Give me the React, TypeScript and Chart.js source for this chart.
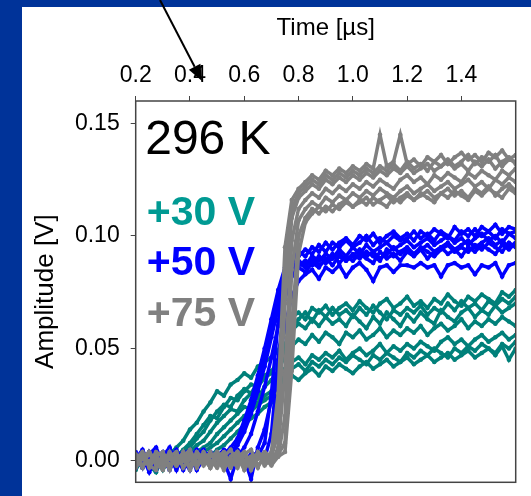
import React, { useEffect, useRef } from "react";
import { Chart, registerables } from "chart.js";

Chart.register(...registerables);

// ---- data (time in µs, amplitude in V) ----
const times = [
  0.2, 0.225, 0.25, 0.275, 0.3, 0.325, 0.35, 0.375, 0.4, 0.425,
  0.45, 0.475, 0.5, 0.525, 0.55, 0.575, 0.6, 0.625, 0.65, 0.675,
  0.7, 0.725, 0.75, 0.775, 0.8, 0.825, 0.85, 0.875, 0.9, 0.925,
  0.95, 0.975, 1.0, 1.025, 1.05, 1.075, 1.1, 1.125, 1.15, 1.175,
  1.2, 1.225, 1.25, 1.275, 1.3, 1.325, 1.35, 1.375, 1.4, 1.425,
  1.45, 1.475, 1.5, 1.525, 1.55, 1.575, 1.6,
];

// +30 V traces
const teal1 = [
  0.002, -0.003, 0.004, 0.001, -0.002, 0.003, 0.006, 0.009, 0.014, 0.017,
  0.022, 0.026, 0.031, 0.029, 0.034, 0.036, 0.039, 0.037, 0.042, 0.044,
  0.046, 0.049, 0.058, 0.064, 0.066, 0.063, 0.068, 0.066, 0.069, 0.065,
  0.068, 0.070, 0.067, 0.071, 0.068, 0.066, 0.070, 0.072, 0.068, 0.070,
  0.073, 0.069, 0.071, 0.068, 0.072, 0.070, 0.074, 0.071, 0.069, 0.073,
  0.071, 0.074, 0.072, 0.070, 0.075, 0.073, 0.076,
];
const teal2 = [
  -0.004, 0.001, -0.002, 0.003, -0.001, 0.002, -0.003, 0.004, 0.006, 0.010,
  0.013, 0.018, 0.022, 0.025, 0.024, 0.029, 0.032, 0.030, 0.035, 0.038,
  0.040, 0.044, 0.052, 0.058, 0.061, 0.059, 0.063, 0.060, 0.064, 0.061,
  0.063, 0.060, 0.065, 0.062, 0.059, 0.064, 0.061, 0.066, 0.063, 0.060,
  0.065, 0.062, 0.066, 0.063, 0.061, 0.067, 0.064, 0.062, 0.066, 0.068,
  0.064, 0.067, 0.065, 0.069, 0.066, 0.068, 0.070,
];
const teal3 = [
  0.001, 0.004, -0.002, -0.005, 0.002, -0.001, 0.003, 0.000, 0.004, 0.007,
  0.009, 0.013, 0.017, 0.020, 0.023, 0.022, 0.027, 0.030, 0.028, 0.033,
  0.036, 0.040, 0.047, 0.051, 0.054, 0.052, 0.056, 0.053, 0.057, 0.055,
  0.052, 0.057, 0.055, 0.058, 0.054, 0.056, 0.059, 0.055, 0.058, 0.056,
  0.059, 0.057, 0.060, 0.056, 0.059, 0.061, 0.058, 0.060, 0.063, 0.059,
  0.062, 0.060, 0.063, 0.061, 0.064, 0.062, 0.060,
];
const teal4 = [
  -0.002, 0.003, 0.000, 0.002, -0.004, 0.001, -0.002, 0.002, 0.001, 0.004,
  0.006, 0.008, 0.012, 0.015, 0.018, 0.021, 0.024, 0.023, 0.026, 0.029,
  0.031, 0.034, 0.041, 0.044, 0.046, 0.043, 0.047, 0.045, 0.048, 0.046,
  0.049, 0.045, 0.048, 0.050, 0.047, 0.049, 0.052, 0.048, 0.051, 0.049,
  0.052, 0.050, 0.053, 0.051, 0.049, 0.053, 0.055, 0.052, 0.054, 0.051,
  0.054, 0.056, 0.053, 0.055, 0.057, 0.054, 0.056,
];
const teal5 = [
  0.003, -0.001, 0.002, -0.003, 0.001, 0.004, -0.002, 0.001, -0.001, 0.002,
  0.004, 0.006, 0.008, 0.011, 0.014, 0.017, 0.020, 0.022, 0.025, 0.027,
  0.029, 0.031, 0.036, 0.038, 0.036, 0.039, 0.041, 0.038, 0.042, 0.040,
  0.043, 0.041, 0.039, 0.042, 0.044, 0.041, 0.043, 0.045, 0.042, 0.044,
  0.046, 0.043, 0.045, 0.047, 0.044, 0.046, 0.048, 0.045, 0.047, 0.049,
  0.046, 0.048, 0.050, 0.047, 0.051, 0.045, 0.050,
];
const teal6 = [
  -0.001, 0.003, -0.004, 0.002, 0.000, -0.003, 0.002, 0.005, 0.008, 0.012,
  0.016, 0.020, 0.019, 0.024, 0.028, 0.027, 0.031, 0.034, 0.033, 0.037,
  0.039, 0.043, 0.050, 0.060, 0.063, 0.066, 0.062, 0.067, 0.064, 0.068,
  0.065, 0.067, 0.064, 0.068, 0.065, 0.069, 0.066, 0.063, 0.067, 0.065,
  0.068, 0.066, 0.069, 0.065, 0.068, 0.066, 0.070, 0.067, 0.071, 0.068,
  0.070, 0.067, 0.071, 0.069, 0.072, 0.070, 0.073,
];
const teal7 = [
  0.002, -0.002, 0.001, 0.004, -0.001, 0.002, 0.000, -0.003, 0.002, 0.001,
  0.003, 0.002, 0.005, 0.007, 0.010, 0.013, 0.016, 0.019, 0.021, 0.024,
  0.026, 0.030, 0.038, 0.041, 0.043, 0.040, 0.044, 0.042, 0.045, 0.043,
  0.046, 0.044, 0.047, 0.045, 0.043, 0.047, 0.045, 0.048, 0.046, 0.044,
  0.048, 0.046, 0.049, 0.047, 0.050, 0.048, 0.046, 0.050, 0.048, 0.051,
  0.049, 0.052, 0.050, 0.048, 0.052, 0.050, 0.053,
];

// +50 V traces
const blue1 = [
  0.004, -0.002, 0.003, 0.006, -0.001, 0.002, -0.004, 0.003, 0.005, -0.002,
  0.002, 0.004, 0.001, 0.003, 0.006, 0.010, 0.018, 0.027, 0.038, 0.050,
  0.063, 0.076, 0.086, 0.090, 0.093, 0.091, 0.095, 0.093, 0.097, 0.094,
  0.097, 0.099, 0.096, 0.100, 0.098, 0.101, 0.097, 0.100, 0.102, 0.099,
  0.101, 0.098, 0.102, 0.100, 0.103, 0.101, 0.099, 0.104, 0.101, 0.103,
  0.100, 0.104, 0.102, 0.105, 0.101, 0.104, 0.103,
];
const blue2 = [
  -0.003, 0.002, -0.005, 0.001, 0.004, -0.002, 0.001, -0.004, 0.002, 0.005,
  -0.001, 0.003, -0.002, 0.002, 0.004, 0.007, 0.013, 0.021, 0.031, 0.042,
  0.055, 0.068, 0.080, 0.086, 0.089, 0.087, 0.091, 0.089, 0.092, 0.090,
  0.094, 0.091, 0.095, 0.092, 0.096, 0.093, 0.095, 0.097, 0.094, 0.096,
  0.098, 0.095, 0.097, 0.099, 0.096, 0.098, 0.100, 0.097, 0.099, 0.096,
  0.099, 0.101, 0.098, 0.100, 0.097, 0.101, 0.099,
];
const blue3 = [
  0.001, 0.005, -0.001, -0.004, 0.002, 0.006, -0.003, 0.001, -0.002, 0.003,
  0.005, -0.001, 0.003, 0.000, -0.008, 0.002, 0.006, 0.012, 0.022, 0.033,
  0.046, 0.060, 0.074, 0.082, 0.086, 0.084, 0.088, 0.086, 0.090, 0.087,
  0.091, 0.089, 0.092, 0.090, 0.093, 0.091, 0.089, 0.094, 0.091, 0.093,
  0.095, 0.092, 0.094, 0.096, 0.093, 0.095, 0.097, 0.094, 0.096, 0.098,
  0.095, 0.097, 0.099, 0.096, 0.098, 0.095, 0.097,
];
const blue4 = [
  -0.002, 0.003, 0.000, 0.004, -0.003, 0.001, 0.005, -0.001, 0.002, -0.004,
  0.001, 0.004, -0.002, 0.003, 0.001, 0.004, 0.000, 0.003, 0.002, 0.008,
  0.030, 0.062, 0.079, 0.085, 0.088, 0.086, 0.090, 0.087, 0.089, 0.092,
  0.088, 0.091, 0.089, 0.092, 0.090, 0.088, 0.093, 0.090, 0.092, 0.089,
  0.093, 0.091, 0.094, 0.090, 0.093, 0.095, 0.092, 0.094, 0.091, 0.095,
  0.093, 0.096, 0.094, 0.092, 0.096, 0.094, 0.097,
];
const blue5 = [
  0.003, -0.001, 0.002, -0.003, 0.001, -0.004, 0.002, 0.004, -0.002, 0.001,
  0.003, -0.002, 0.001, 0.004, 0.002, 0.005, 0.001, -0.008, 0.006, 0.014,
  0.027, 0.042, 0.060, 0.073, 0.080, 0.083, 0.085, 0.081, 0.086, 0.084,
  0.087, 0.082, 0.086, 0.088, 0.085, 0.080, 0.086, 0.087, 0.084, 0.087,
  0.087, 0.086, 0.088, 0.086, 0.087, 0.082, 0.087, 0.088, 0.086, 0.087,
  0.083, 0.087, 0.086, 0.088, 0.082, 0.087, 0.088,
];
const blue6 = [
  0.002, -0.003, 0.004, 0.000, -0.002, 0.005, 0.001, -0.003, 0.003, 0.000,
  0.004, -0.002, 0.002, 0.005, 0.003, 0.008, 0.015, 0.024, 0.034, 0.046,
  0.059, 0.072, 0.083, 0.088, 0.091, 0.094, 0.092, 0.096, 0.093, 0.097,
  0.095, 0.098, 0.095, 0.097, 0.100, 0.096, 0.099, 0.097, 0.100, 0.098,
  0.099, 0.102, 0.099, 0.101, 0.098, 0.102, 0.100, 0.098, 0.102, 0.100,
  0.103, 0.100, 0.102, 0.099, 0.103, 0.101, 0.102,
];
const blue7 = [
  -0.001, 0.004, -0.003, 0.001, 0.003, -0.002, 0.002, 0.000, -0.004, 0.003,
  0.000, 0.002, 0.004, -0.001, 0.003, 0.001, -0.002, 0.002, 0.004, 0.001,
  0.012, 0.045, 0.072, 0.083, 0.087, 0.089, 0.087, 0.091, 0.088, 0.090,
  0.092, 0.089, 0.091, 0.094, 0.091, 0.093, 0.090, 0.092, 0.095, 0.092,
  0.094, 0.092, 0.095, 0.093, 0.091, 0.094, 0.096, 0.093, 0.095, 0.093,
  0.096, 0.094, 0.097, 0.095, 0.093, 0.097, 0.095,
];

// +75 V traces
const gray1 = [
  0.002, -0.003, 0.004, 0.000, -0.002, 0.003, -0.001, 0.004, -0.003, 0.002,
  -0.001, 0.003, 0.001, -0.004, 0.002, 0.004, -0.002, 0.001, 0.003, -0.001,
  0.004, 0.030, 0.095, 0.116, 0.121, 0.124, 0.127, 0.125, 0.129, 0.127,
  0.130, 0.128, 0.131, 0.129, 0.132, 0.130, 0.145, 0.131, 0.133, 0.145,
  0.132, 0.134, 0.131, 0.135, 0.133, 0.136, 0.132, 0.135, 0.137, 0.134,
  0.136, 0.133, 0.137, 0.135, 0.138, 0.134, 0.136,
];
const gray2 = [
  -0.003, 0.001, -0.001, 0.004, 0.002, -0.004, 0.003, 0.000, 0.002, -0.002,
  0.004, 0.000, -0.003, 0.002, 0.005, -0.001, 0.003, -0.004, 0.001, 0.004,
  0.002, 0.012, 0.070, 0.108, 0.117, 0.120, 0.123, 0.121, 0.125, 0.123,
  0.126, 0.124, 0.127, 0.125, 0.128, 0.126, 0.129, 0.127, 0.130, 0.128,
  0.131, 0.128, 0.130, 0.132, 0.129, 0.131, 0.133, 0.130, 0.132, 0.129,
  0.133, 0.131, 0.134, 0.130, 0.133, 0.135, 0.132,
];
const gray3 = [
  0.001, 0.004, -0.002, -0.004, 0.003, 0.001, -0.002, 0.002, 0.005, -0.001,
  0.002, -0.003, 0.003, 0.001, -0.002, 0.004, 0.000, 0.002, -0.003, 0.003,
  -0.001, 0.006, 0.040, 0.098, 0.112, 0.116, 0.119, 0.117, 0.121, 0.119,
  0.122, 0.120, 0.123, 0.121, 0.124, 0.122, 0.125, 0.123, 0.121, 0.125,
  0.127, 0.124, 0.126, 0.123, 0.127, 0.125, 0.128, 0.126, 0.124, 0.128,
  0.126, 0.129, 0.127, 0.125, 0.129, 0.127, 0.130,
];
const gray4 = [
  -0.002, 0.002, 0.003, -0.001, -0.004, 0.002, 0.004, -0.003, 0.001, 0.003,
  -0.002, 0.002, 0.004, -0.002, 0.001, -0.003, 0.003, 0.005, -0.002, 0.001,
  0.003, 0.002, 0.020, 0.085, 0.107, 0.112, 0.115, 0.113, 0.117, 0.115,
  0.118, 0.116, 0.119, 0.117, 0.120, 0.118, 0.121, 0.119, 0.117, 0.120,
  0.122, 0.119, 0.121, 0.123, 0.120, 0.122, 0.124, 0.121, 0.123, 0.125,
  0.122, 0.124, 0.121, 0.125, 0.123, 0.126, 0.124,
];
const gray5 = [
  0.003, -0.002, 0.000, 0.002, 0.004, -0.002, 0.001, 0.003, -0.004, 0.002,
  0.000, 0.004, -0.002, 0.003, -0.001, 0.002, -0.004, 0.001, 0.003, -0.002,
  0.001, 0.003, 0.008, 0.060, 0.100, 0.108, 0.112, 0.110, 0.113, 0.111,
  0.114, 0.116, 0.113, 0.115, 0.117, 0.114, 0.116, 0.118, 0.115, 0.117,
  0.119, 0.116, 0.118, 0.120, 0.117, 0.119, 0.121, 0.118, 0.120, 0.117,
  0.121, 0.119, 0.122, 0.118, 0.121, 0.123, 0.120,
];
const gray6 = [
  0.000, 0.003, -0.003, 0.002, -0.001, 0.004, -0.002, 0.001, 0.003, -0.003,
  0.002, -0.002, 0.004, 0.000, -0.003, 0.002, 0.004, -0.001, 0.002, 0.000,
  0.003, 0.020, 0.082, 0.112, 0.119, 0.122, 0.125, 0.123, 0.127, 0.125,
  0.128, 0.126, 0.129, 0.127, 0.130, 0.128, 0.131, 0.129, 0.132, 0.129,
  0.133, 0.130, 0.132, 0.129, 0.133, 0.131, 0.134, 0.131, 0.133, 0.136,
  0.132, 0.135, 0.133, 0.136, 0.131, 0.134, 0.133,
];
const gray7 = [
  -0.001, 0.002, 0.004, -0.002, 0.001, -0.003, 0.003, 0.000, -0.002, 0.004,
  0.001, -0.003, 0.002, 0.004, -0.002, 0.000, 0.003, -0.002, 0.004, 0.001,
  -0.002, 0.002, 0.004, 0.040, 0.092, 0.106, 0.110, 0.113, 0.111, 0.114,
  0.112, 0.115, 0.113, 0.116, 0.114, 0.117, 0.115, 0.113, 0.117, 0.115,
  0.118, 0.116, 0.119, 0.117, 0.115, 0.119, 0.117, 0.120, 0.118, 0.116,
  0.120, 0.118, 0.121, 0.119, 0.117, 0.121, 0.119,
];

const tealTraces = [teal1, teal2, teal3, teal4, teal5, teal6, teal7];
const blueTraces = [blue1, blue2, blue3, blue4, blue5, blue6, blue7];
const grayTraces = [gray1, gray2, gray3, gray4, gray5, gray6, gray7];

const xTickValues = [0.2, 0.4, 0.6, 0.8, 1.0, 1.2, 1.4];
const yTickValues = [0.0, 0.05, 0.1, 0.15];
const xRange = [0.2, 1.6];
const yRange = [-0.0095, 0.16];

const temperatureLabel = "296 K";
const voltageLabels = ["+30 V", "+50 V", "+75 V"];
const xTitle = "Time [µs]";
const yTitle = "Amplitude [V]";

// ---- styling ----
const FONT = "'Liberation Sans', Arial, Helvetica, sans-serif";
const TEAL_LINE = "#00807a";
const TEAL_TEXT = "#009a93";
const BLUE = "#0000ff";
const GRAY = "#808080";

const toPoints = (vals: number[]) =>
  vals.slice(0, times.length).map((v, i) => ({ x: times[i], y: v }));

const decorPlugin = {
  id: "decor",
  beforeDraw(chart: any) {
    const { ctx, width, height } = chart;
    ctx.save();
    ctx.fillStyle = "#003399";
    ctx.fillRect(0, 0, width, height);
    ctx.fillStyle = "#ffffff";
    ctx.fillRect(22, 7, width - 22, height - 7);
    ctx.restore();
  },
  afterDatasetsDraw(chart: any) {
    const { ctx, chartArea: a } = chart;
    ctx.save();
    ctx.strokeStyle = "#444444";
    ctx.lineWidth = 1.5;
    ctx.strokeRect(a.left, a.top, a.right - a.left, a.bottom - a.top);

    ctx.textAlign = "left";
    ctx.textBaseline = "alphabetic";
    ctx.fillStyle = "#000000";
    ctx.font = `48px ${FONT}`;
    ctx.fillText(temperatureLabel, a.left + 9.5, 154);

    ctx.font = `bold 41px ${FONT}`;
    const colors = [TEAL_TEXT, BLUE, GRAY];
    const baselines = [225, 275, 326];
    voltageLabels.forEach((t, i) => {
      ctx.fillStyle = colors[i];
      ctx.fillText(t, a.left + 11, baselines[i]);
    });
    ctx.restore();
  },
  afterDraw(chart: any) {
    const { ctx } = chart;
    const x0 = 160, y0 = 0, x1 = 202, y1 = 81;
    const ang = Math.atan2(y1 - y0, x1 - x0);
    const headLen = 16, headW = 6.5;
    const bx = x1 - headLen * Math.cos(ang);
    const by = y1 - headLen * Math.sin(ang);
    ctx.save();
    ctx.strokeStyle = "#000";
    ctx.fillStyle = "#000";
    ctx.lineWidth = 2;
    ctx.beginPath();
    ctx.moveTo(x0, y0);
    ctx.lineTo(bx, by);
    ctx.stroke();
    ctx.beginPath();
    ctx.moveTo(x1, y1);
    ctx.lineTo(bx + headW * Math.sin(ang), by - headW * Math.cos(ang));
    ctx.lineTo(bx - headW * Math.sin(ang), by + headW * Math.cos(ang));
    ctx.closePath();
    ctx.fill();
    ctx.restore();
  },
};

export default function App() {
  const canvasRef = useRef<HTMLCanvasElement | null>(null);

  useEffect(() => {
    if (!canvasRef.current) return;
    const mk = (vals: number[], color: string, order: number) => ({
      data: toPoints(vals),
      borderColor: color,
      backgroundColor: color,
      pointBackgroundColor: color,
      pointBorderColor: color,
      borderWidth: 3.5,
      pointRadius: 2.3,
      pointBorderWidth: 0,
      tension: 0,
      fill: false,
      order,
    });
    const datasets = [
      ...grayTraces.map((v) => mk(v, GRAY, 0)),
      ...blueTraces.map((v) => mk(v, BLUE, 1)),
      ...tealTraces.map((v) => mk(v, TEAL_LINE, 2)),
    ];

    const chart = new Chart(canvasRef.current, {
      type: "line",
      data: { datasets },
      plugins: [decorPlugin],
      options: {
        animation: false,
        responsive: false,
        devicePixelRatio: 1,
        events: [],
        layout: { padding: { left: 30.4, top: 14.1, right: 15.3, bottom: 13.7 } },
        plugins: { legend: { display: false }, tooltip: { enabled: false } },
        scales: {
          x: {
            type: "linear",
            position: "top",
            min: xRange[0],
            max: xRange[1],
            afterBuildTicks: (s: any) => {
              s.ticks = xTickValues.map((v) => ({ value: v }));
            },
            afterFit: (s: any) => {
              s.height = 86.9;
              s.paddingLeft = 0;
              s.paddingRight = 0;
            },
            ticks: {
              color: "#000",
              font: { family: FONT, size: 23 },
              padding: 6.7,
              maxRotation: 0,
              autoSkip: false,
              callback: (v: any) => Number(v).toFixed(1),
            },
            grid: {
              drawOnChartArea: false,
              drawTicks: true,
              tickLength: 5,
              tickColor: "#444",
              color: "#444",
            },
            border: { display: false },
            title: {
              display: true,
              text: xTitle,
              color: "#000",
              font: { family: FONT, size: 24 },
              padding: 0,
            },
          },
          y: {
            type: "linear",
            position: "left",
            min: yRange[0],
            max: yRange[1],
            afterBuildTicks: (s: any) => {
              s.ticks = yTickValues.map((v) => ({ value: v }));
            },
            afterFit: (s: any) => {
              s.width = 105.3;
              s.paddingTop = 0;
              s.paddingBottom = 0;
            },
            ticks: {
              color: "#000",
              font: { family: FONT, size: 23 },
              padding: 11,
              autoSkip: false,
              callback: (v: any) => Number(v).toFixed(2),
            },
            grid: {
              drawOnChartArea: false,
              drawTicks: true,
              tickLength: 5,
              tickColor: "#444",
              color: "#444",
            },
            border: { display: false },
            title: {
              display: true,
              text: yTitle,
              color: "#000",
              font: { family: FONT, size: 26 },
              padding: 0,
            },
          },
        },
      },
    } as any);
    return () => chart.destroy();
  }, []);

  return (
    <div style={{ position: "fixed", left: 0, top: 0, width: 531, height: 496 }}>
      <canvas ref={canvasRef} width={531} height={496} style={{ display: "block" }} />
    </div>
  );
}
